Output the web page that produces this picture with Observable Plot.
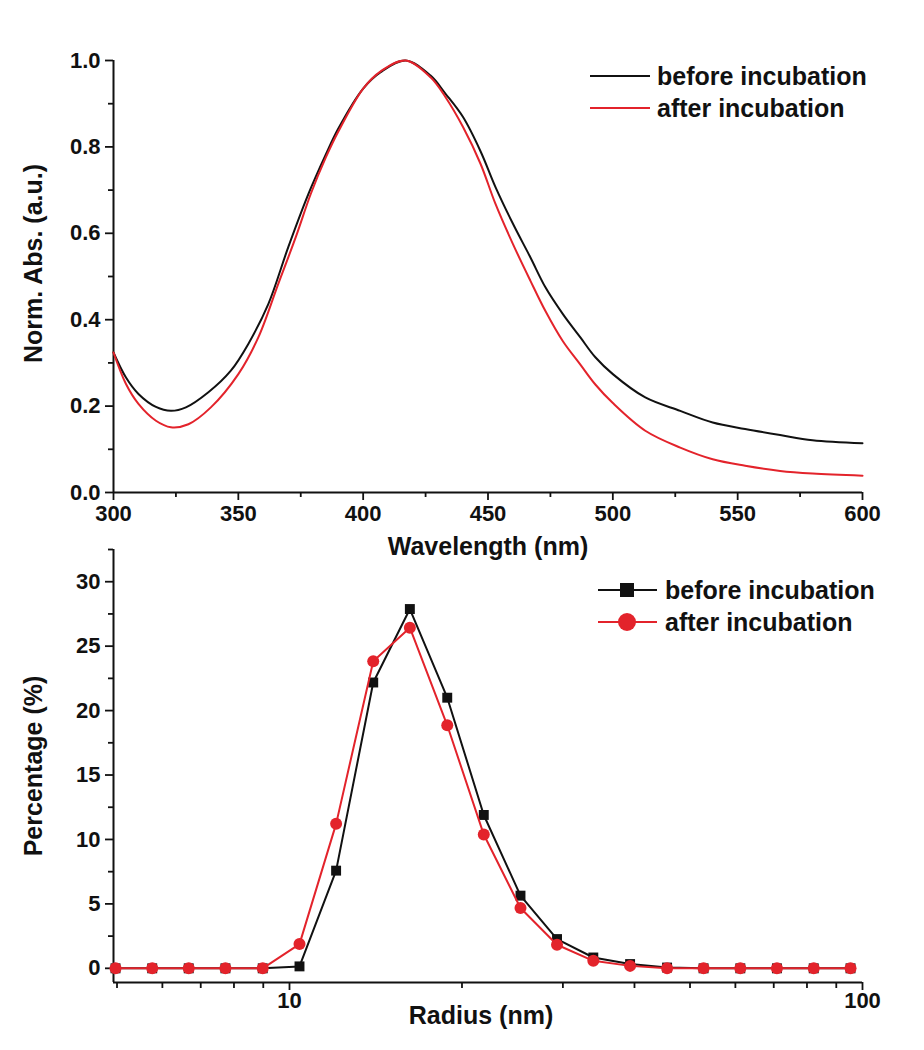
<!DOCTYPE html>
<html><head><meta charset="utf-8">
<script src="https://cdn.jsdelivr.net/npm/d3@7"></script>
<script src="https://cdn.jsdelivr.net/npm/@observablehq/plot@0.6"></script>
<style>
body{margin:0;background:#fff;font-family:"Liberation Sans",Arial,sans-serif;}
#wrap{position:relative;width:924px;height:1050px;overflow:hidden;background:#fff;}
#top,#bottom{position:absolute;left:0;}
#top{top:0;}
#bottom{top:530px;}
.row{position:absolute;height:30px;display:flex;align-items:center;white-space:nowrap;font-weight:bold;font-size:25px;color:#111;}
.row svg{display:block;}
</style></head>
<body><div id="wrap"><div id="top"></div><div id="bottom"></div><div id="legends"></div></div>
<script>
// ---------- Data: UV-vis spectra ----------
const wlBefore  = [300,305,310,317,323,329,338,347,354,362,370,378,385,390,400,407,417,427,433,440,447,453,460,467,473,480,487,493,500,513,527,540,553,567,580,600];
const absBefore = [0.324,0.266,0.228,0.198,0.189,0.197,0.232,0.282,0.344,0.436,0.568,0.69,0.782,0.842,0.935,0.973,1.0,0.965,0.923,0.869,0.79,0.707,0.622,0.544,0.475,0.413,0.359,0.313,0.274,0.22,0.189,0.162,0.147,0.133,0.121,0.114];
const wlAfter   = [300,305,310,317,323,330,339,350,358,366,373,379,385,390,400,407,417,427,433,440,447,453,460,467,473,480,487,493,500,513,527,540,553,567,580,600];
const absAfter  = [0.324,0.251,0.205,0.166,0.151,0.158,0.197,0.274,0.359,0.483,0.591,0.691,0.775,0.835,0.935,0.975,1.0,0.961,0.915,0.846,0.761,0.668,0.575,0.49,0.42,0.35,0.296,0.25,0.207,0.143,0.104,0.077,0.062,0.05,0.044,0.039];

// ---------- Data: size distribution ----------
const radius     = [4.97,5.76,6.67,7.73,8.98,10.41,12.06,14.0,16.22,18.85,21.83,25.3,29.3,33.9,39.3,45.6,52.8,61.2,70.9,82.2,95.3];
const pctBefore  = [0,0,0,0,0,0.15,7.58,22.18,27.88,21.0,11.9,5.64,2.27,0.84,0.33,0.06,0,0,0,0,0];
const pctAfter   = [0,0,0,0,0,1.88,11.21,23.83,26.43,18.86,10.38,4.68,1.83,0.58,0.19,0,0,0,0,0,0];

// ---------- Ticks & labels ----------
const wlTicks = [300,350,400,450,500,550,600];
const wlMinor = [325,375,425,475,525,575];
const absTicks = [0,0.2,0.4,0.6,0.8,1.0];
const absMinor = [0.1,0.3,0.5,0.7,0.9];
const rTicks = [10,100];
const rMinor = [5,6,7,8,9,20,30,40,50,60,70,80,90];
const pctTicks = [0,5,10,15,20,25,30];
const pctMinor = [2.5,7.5,12.5,17.5,22.5,27.5,32.5];
const seriesNames = ["before incubation","after incubation"];
const topXLabel = "Wavelength (nm)", topYLabel = "Norm. Abs. (a.u.)";
const botXLabel = "Radius (nm)", botYLabel = "Percentage (%)";

const BLACK = "#111111", RED = "#e3232b";
const FONT = "'Liberation Sans', Arial, sans-serif";
const tickFS = 22, labelFS = 25;

const specBefore = wlBefore.map((w,i)=>({w, a: absBefore[i]}));
const specAfter  = wlAfter.map((w,i)=>({w, a: absAfter[i]}));
const distBefore = radius.map((r,i)=>({r, p: pctBefore[i]}));
const distAfter  = radius.map((r,i)=>({r, p: pctAfter[i]}));

const common = {fontWeight: "bold", fill: BLACK};
const topPlot = Plot.plot({
  width: 924, height: 560,
  marginTop: 60, marginBottom: 68, marginLeft: 113, marginRight: 62,
  x: {domain: [300, 600]},
  y: {domain: [0, 1]},
  style: {fontFamily: FONT, fontSize: tickFS + "px", fontWeight: "bold", color: BLACK, background: "transparent", overflow: "visible"},
  marks: [
    Plot.axisX(wlTicks, {tickSize: 8, tickPadding: 5, strokeWidth: 1.8, fontSize: tickFS, ...common, label: null}),
    Plot.axisX(wlMinor, {tickSize: 5, strokeWidth: 1.8, tickFormat: () => "", label: null}),
    Plot.axisY(absTicks, {tickSize: 8, tickPadding: 5, strokeWidth: 1.8, tickFormat: d3.format(".1f"), fontSize: tickFS, ...common, label: null}),
    Plot.axisY(absMinor, {tickSize: 5, strokeWidth: 1.8, tickFormat: () => "", label: null}),
    Plot.ruleX([300], {strokeWidth: 2, stroke: BLACK}),
    Plot.ruleY([0], {strokeWidth: 2, stroke: BLACK}),
    Plot.line(specBefore, {x: "w", y: "a", stroke: BLACK, strokeWidth: 2, curve: "catmull-rom"}),
    Plot.line(specAfter, {x: "w", y: "a", stroke: RED, strokeWidth: 2, curve: "catmull-rom"}),
    Plot.text([topYLabel], {text: d => d, frameAnchor: "left", textAnchor: "middle", lineAnchor: "middle", rotate: -90, dx: -80, dy: -13, fontSize: labelFS, ...common}),
    Plot.text([topXLabel], {text: d => d, frameAnchor: "bottom", textAnchor: "middle", lineAnchor: "middle", dy: 54, fontSize: labelFS, ...common})
  ]
});
document.getElementById("top").appendChild(topPlot);

const botPlot = Plot.plot({
  width: 924, height: 520,
  marginTop: 19, marginBottom: 68, marginLeft: 113, marginRight: 62,
  x: {type: "log", domain: [4.93, 100]},
  y: {domain: [-1.1, 32.5]},
  style: {fontFamily: FONT, fontSize: tickFS + "px", fontWeight: "bold", color: BLACK, background: "transparent", overflow: "visible"},
  marks: [
    Plot.axisX(rTicks, {tickSize: 8, tickPadding: 2, strokeWidth: 1.8, tickFormat: d => String(d), fontSize: tickFS, ...common, label: null}),
    Plot.axisX(rMinor, {tickSize: 6, strokeWidth: 1.8, tickFormat: () => "", label: null}),
    Plot.axisY(pctTicks, {tickSize: 8, tickPadding: 5, strokeWidth: 1.8, tickFormat: d => String(d), fontSize: tickFS, ...common, label: null}),
    Plot.axisY(pctMinor, {tickSize: 5, strokeWidth: 1.8, tickFormat: () => "", label: null}),
    Plot.ruleX([4.93], {strokeWidth: 2, stroke: BLACK}),
    Plot.ruleY([-1.1], {strokeWidth: 2, stroke: BLACK}),
    Plot.line(distBefore, {x: "r", y: "p", stroke: BLACK, strokeWidth: 2}),
    Plot.dot(distBefore, {x: "r", y: "p", symbol: "square", r: 5.6, fill: BLACK, stroke: "none"}),
    Plot.line(distAfter, {x: "r", y: "p", stroke: RED, strokeWidth: 2}),
    Plot.dot(distAfter, {x: "r", y: "p", symbol: "circle", r: 6, fill: RED, stroke: "none"}),
    Plot.text([botYLabel], {text: d => d, frameAnchor: "left", textAnchor: "middle", lineAnchor: "middle", rotate: -90, dx: -80, fontSize: labelFS, ...common}),
    Plot.text([botXLabel], {text: d => d, frameAnchor: "bottom", textAnchor: "middle", lineAnchor: "middle", dx: -7, dy: 33, fontSize: labelFS, ...common})
  ]
});
document.getElementById("bottom").appendChild(botPlot);

// ---------- Legends ----------
const legends = document.getElementById("legends");
function addRow(left, cy, svgW, inner, label) {
  const row = document.createElement("div");
  row.className = "row";
  row.style.left = left + "px";
  row.style.top = (cy - 15) + "px";
  row.innerHTML = `<svg width="${svgW}" height="30">${inner}</svg><span>${label}</span>`;
  legends.appendChild(row);
}
addRow(588, 76, 69, `<line x1="2" x2="62" y1="15" y2="15" stroke="${BLACK}" stroke-width="2"/>`, seriesNames[0]);
addRow(588, 108, 69, `<line x1="2" x2="62" y1="15" y2="15" stroke="${RED}" stroke-width="2"/>`, seriesNames[1]);
addRow(596, 590, 69, `<line x1="2" x2="61" y1="15" y2="15" stroke="${BLACK}" stroke-width="2"/><rect x="24" y="8" width="14" height="14" fill="${BLACK}"/>`, seriesNames[0]);
addRow(596, 622, 69, `<line x1="2" x2="61" y1="15" y2="15" stroke="${RED}" stroke-width="2"/><circle cx="31" cy="15" r="9" fill="${RED}"/>`, seriesNames[1]);
</script>
</body></html>
